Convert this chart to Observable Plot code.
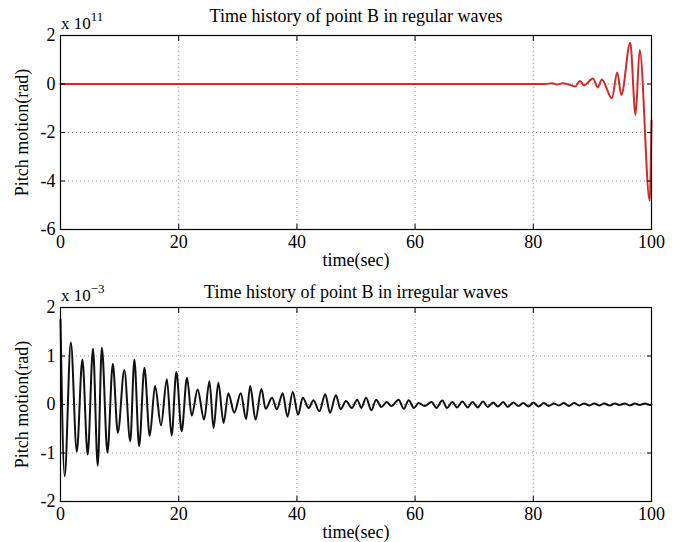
<!DOCTYPE html>
<html><head><meta charset="utf-8">
<script src="https://cdn.jsdelivr.net/npm/d3@7"></script>
<script src="https://cdn.jsdelivr.net/npm/@observablehq/plot@0.6"></script>
<style>
body{margin:0;background:#fff;}
#chart svg{display:block;}
</style></head><body><div id="chart"></div>
<script>
const xTicks = [0, 20, 40, 60, 80, 100];
const regularYTicks = [-6, -4, -2, 0, 2];
const irregularYTicks = [-2, -1, 0, 1, 2];
const titles = ["Time history of point B in regular waves", "Time history of point B in irregular waves"];
const exponents = ["11", "\u22123"];
const xLabel = "time(sec)";
const yLabel = "Pitch motion(rad)";

// [time (sec), pitch (x 1e11 rad)]
const regularWaves = [
  [0, 0], [80, 0], [82, 0], [83.2, 0.03], [84.0, -0.02], [85.0, 0.03], [86.0, -0.02],
  [87.1, -0.1], [87.9, 0.12], [88.6, -0.05], [90.1, 0.23], [90.9, -0.14], [91.6, 0.19],
  [93.3, -0.59], [94.2, 0.47], [94.9, -0.45], [96.4, 1.7], [97.3, -1.28], [98.0, 1.4],
  [99.7, -4.81], [100, -1.5]
];

// [time (sec), pitch (x 1e-3 rad)]
const irregularWaves = [
  [0, 1.75], [0.7, -1.48], [1.75, 1.28], [2.76, -0.97], [3.7, 0.93], [4.6, -1.03],
  [5.5, 1.15], [6.3, -1.26], [7.0, 1.17], [7.95, -0.99], [8.85, 0.84], [9.7, -0.58],
  [10.8, 0.71], [11.8, -0.76], [12.5, 0.93], [13.3, -0.86], [14.2, 0.76], [15.1, -0.65],
  [16.0, 0.38], [17.0, -0.43], [18.0, 0.52], [18.8, -0.64], [19.6, 0.67], [20.5, -0.55],
  [21.4, 0.55], [22.2, -0.23], [23.2, 0.31], [24.3, -0.31], [25.2, 0.48], [25.9, -0.49],
  [26.7, 0.45], [27.6, -0.38], [28.4, 0.23], [29.4, -0.17], [30.5, 0.23], [31.4, -0.30],
  [32.1, 0.38], [33.0, -0.31], [34.0, 0.32], [34.7, -0.09], [35.8, 0.14], [36.6, -0.10],
  [37.6, 0.23], [38.4, -0.25], [39.3, 0.26], [40.2, -0.21], [41.0, 0.14], [42.0, -0.07],
  [42.8, 0.09], [43.8, -0.14], [44.8, 0.21], [45.6, -0.17], [46.6, 0.19], [47.4, -0.10],
  [48.3, 0.07], [49.3, -0.07], [50.2, 0.10], [50.9, -0.07], [51.7, 0.14], [52.6, -0.12],
  [53.4, 0.10], [54.3, -0.05], [55.2, 0.05], [56.0, -0.03], [57.2, 0.10], [58.1, -0.09],
  [58.9, 0.09], [59.8, -0.07], [60.6, 0.03], [61.6, -0.03], [62.8, 0.05], [63.6, -0.07],
  [64.6, 0.08], [65.4, -0.07], [66.3, 0.05], [67.1, -0.06], [68.0, 0.06], [68.9, -0.06],
  [69.7, 0.05], [70.6, -0.06], [71.5, 0.06], [72.3, -0.05], [73.2, 0.04], [74.0, -0.04],
  [74.9, 0.05], [75.7, -0.05], [76.6, 0.04], [77.5, -0.03], [78.3, 0.03], [79.2, -0.04],
  [80.0, 0.04], [80.9, -0.04], [81.8, 0.03], [82.6, -0.03], [83.5, 0.02], [84.3, -0.02],
  [85.2, 0.03], [86.0, -0.03], [86.9, 0.03], [87.8, -0.02], [88.6, 0.02], [89.5, -0.02],
  [90.3, 0.02], [91.2, -0.02], [92.0, 0.02], [92.9, -0.02], [93.8, 0.02], [94.6, -0.01],
  [95.5, 0.02], [96.3, -0.02], [97.2, 0.02], [98.0, -0.01], [98.9, 0.02], [99.7, -0.01],
  [100, 0]
];

const font = "'Liberation Serif', 'Times New Roman', serif";
const fmt = d => d < 0 ? "-" + (-d) : String(d);
const fs = 18;

function panel({data, yDomain, yTicks, color, title, exponent, marginTop, marginBottom, titleDy}) {
  const grid = {stroke: "#777", strokeOpacity: 1, strokeWidth: 0.8, strokeDasharray: "1,3"};
  const svg = Plot.plot({
    width: 682, height: 271,
    marginLeft: 60, marginRight: 31, marginTop, marginBottom,
    style: {fontFamily: font, fontSize: fs + "px", background: "white", color: "black", overflow: "visible"},
    x: {domain: [0, 100], axis: null},
    y: {domain: yDomain, axis: null},
    marks: [
      Plot.gridX(xTicks, grid),
      Plot.gridY(yTicks, grid),
      Plot.line(data, {x: d => d[0], y: d => d[1], stroke: color, strokeWidth: 2, curve: "monotone-x"}),
      Plot.frame({stroke: "black", strokeWidth: 1.2}),
      Plot.axisX(xTicks, {anchor: "bottom", tickSize: 0, tickPadding: 6, tickFormat: fmt, fontSize: fs, label: null}),
      Plot.axisX(xTicks, {anchor: "bottom", tickSize: -5, text: null, label: null}),
      Plot.axisX(xTicks, {anchor: "top", tickSize: -5, text: null, label: null}),
      Plot.axisY(yTicks, {anchor: "left", tickSize: 0, tickPadding: 5, tickFormat: fmt, fontSize: fs, label: null}),
      Plot.axisY(yTicks, {anchor: "left", tickSize: -5, text: null, label: null}),
      Plot.axisY(yTicks, {anchor: "right", tickSize: -5, text: null, label: null}),
      Plot.text([title], {frameAnchor: "top", dy: titleDy, fontSize: fs, textAnchor: "middle"}),
      Plot.text([xLabel], {frameAnchor: "bottom", dy: 36, fontSize: fs, textAnchor: "middle"}),
      Plot.text([yLabel], {frameAnchor: "left", dx: -38, rotate: -90, fontSize: fs, textAnchor: "middle"})
    ]
  });
  const t = d3.select(svg).append("text")
    .attr("x", 61).attr("y", marginTop - 6)
    .attr("text-anchor", "start")
    .attr("font-family", font).attr("font-size", 17).attr("fill", "black");
  t.append("tspan").text("x 10");
  t.append("tspan").attr("dy", -8).attr("font-size", 13).text(exponent);
  return svg;
}

const chart = document.getElementById("chart");
chart.append(panel({data: regularWaves, yDomain: [-6, 2], yTicks: regularYTicks, color: "#d42a2a",
  title: titles[0], exponent: exponents[0], marginTop: 35, marginBottom: 42, titleDy: -26}));
chart.append(panel({data: irregularWaves, yDomain: [-2, 2], yTicks: irregularYTicks, color: "#111",
  title: titles[1], exponent: exponents[1], marginTop: 36, marginBottom: 41, titleDy: -22}));
</script></body></html>
